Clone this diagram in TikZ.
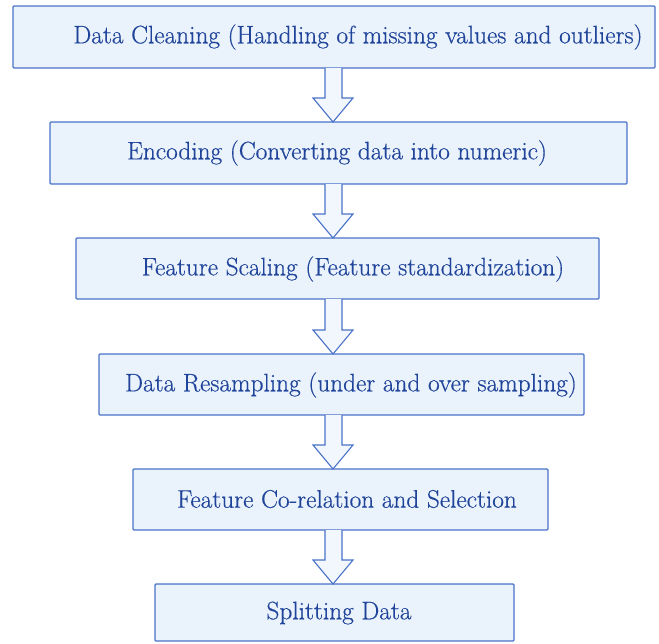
\documentclass[tikz,border=0pt]{standalone}
\usepackage{fontspec}
\newfontfamily\lblfont{Latin Modern Roman}[BoldFont={Latin Modern Roman},BoldFeatures={FakeBold=0.5}]
\usetikzlibrary{calc}
\definecolor{boxfill}{HTML}{EAF2FC}
\definecolor{boxline}{HTML}{4A72C8}
\definecolor{txt}{HTML}{1F449A}
\definecolor{arrfill}{HTML}{F2F7FD}
\begin{document}
\begin{tikzpicture}[x=1pt,y=-1pt,
  stagebox/.style={draw=boxline,fill=boxfill,line width=1.1pt,rounded corners=1pt},
  lbl/.style={text=txt,font=\lblfont\bfseries\fontsize{25.3}{30}\selectfont,inner sep=0pt,anchor=center},
  blockarrow/.style={draw=boxline,fill=arrfill,line width=1.1pt,line join=miter}]
\useasboundingbox (0,0) rectangle (659,643);
% boxes
\draw[stagebox] (13,6) rectangle (655,68);
\draw[stagebox] (50,122) rectangle (627,184);
\draw[stagebox] (76,238) rectangle (599,299);
\draw[stagebox] (99,354) rectangle (584,415);
\draw[stagebox] (133,469) rectangle (548,530);
\draw[stagebox] (155,584) rectangle (514,641);
% labels
\node[lbl] (t1) at (358,37) {Data Cleaning (Handling of missing values and outliers)};
\node[lbl] (t2) at (337,153) {Encoding (Converting data into numeric)};
\node[lbl] (t3) at (353,269) {Feature Scaling (Feature standardization)};
\node[lbl] (t4) at (351,385) {Data Resampling (under and over sampling)};
\node[lbl] (t5) at (347,499) {Feature Co-relation and Selection};
\node[lbl] (t6) at (339,613) {Splitting Data};
% block arrows
\foreach \top/\bot in {68/122,184/238,299/354,415/469,530/584}{
  \pgfmathsetmacro{\hb}{\bot-24}
  \draw[blockarrow] (325,\top) -- (325,\hb) -- (313,\hb) -- (333,\bot) -- (353,\hb) -- (342,\hb) -- (342,\top);
}
\end{tikzpicture}
\end{document}
